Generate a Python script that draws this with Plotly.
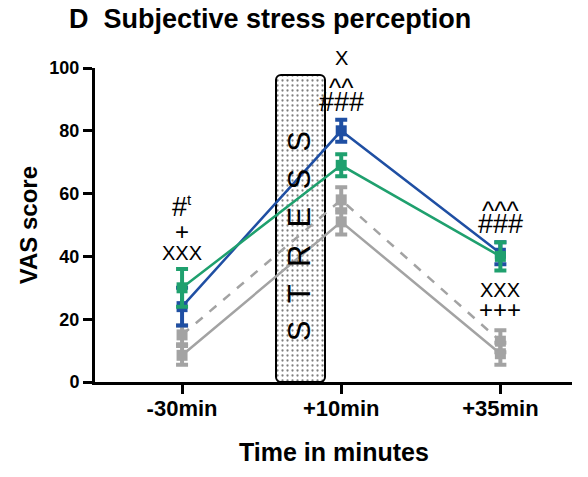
import plotly.graph_objects as go

# ---- data ----
time_labels = ["-30min", "+10min", "+35min"]
time_pos = [0, 1, 2]

gray_solid = [8.5, 51, 9]
gray_solid_err = [3, 4, 3.5]
gray_dashed = [15, 58, 13]
gray_dashed_err = [3, 4, 3.5]
blue = [24, 80, 41]
blue_err = [6, 3.5, 3.5]
green = [30, 69, 40]
green_err = [6, 3.5, 4.5]

stress_x = [0.745]
stress_top = [97.8]

BLUE = "#1f4fa3"
GREEN = "#1fa06e"
GRAY = "#a3a3a3"

fig = go.Figure()

# stress box
fig.add_trace(go.Bar(
    x=stress_x, y=stress_top, base=0, width=0.31,
    marker=dict(color="white", line=dict(color="black", width=2),
                pattern=dict(shape=".", fgcolor="black", bgcolor="white",
                             size=5, solidity=0.16)),
    showlegend=False, hoverinfo="skip"))

def add_series(y, err, color, dash):
    fig.add_trace(go.Scatter(
        x=time_pos, y=y, mode="lines+markers",
        line=dict(color=color, width=2.5, dash=dash),
        marker=dict(symbol="square", size=11, color=color),
        error_y=dict(type="data", array=err, color=color, thickness=4, width=6),
        showlegend=False, cliponaxis=False))

add_series(gray_solid, gray_solid_err, GRAY, "solid")
add_series(gray_dashed, gray_dashed_err, GRAY, "dash")
add_series(blue, blue_err, BLUE, "solid")
add_series(green, green_err, GREEN, "solid")

hfont = dict(family="Liberation Sans, Arial", size=27, color="black")  # hashes
cfont = dict(family="Liberation Sans, Arial", size=26, color="black")  # carets
xfont = dict(family="Liberation Sans, Arial", size=20, color="black")  # X marks
pfont = dict(family="Liberation Sans, Arial", size=24, color="black")  # plus marks
ann = [
    (0, 56, "#<sup><span style='font-size:15px'>t</span></sup>", hfont),
    (0, 47.8, "+", pfont), (0, 41.1, "XXX", xfont),
    (1, 93.6, "^^", cfont), (1, 89.2, "###", hfont),
    (2, 54.5, "^^^", cfont), (2, 50.3, "###", hfont),
    (2, 29.3, "XXX", xfont), (2, 23, "+++", pfont),
]
for x, y, t, f in ann:
    fig.add_annotation(x=x, y=y, text=t, showarrow=False, font=f,
                       xref="x", yref="y", xanchor="center", yanchor="middle")
# label above the plot area (paper reference so it is not hidden)
fig.add_annotation(x=1, y=1.032, xref="x", yref="paper", text="X",
                   xanchor="center", yanchor="middle", showarrow=False, font=xfont)

fig.add_annotation(x=0.742, y=46.5,
                   text="S\u00a0\u00a0T\u00a0\u00a0R\u00a0\u00a0E\u00a0\u00a0S\u00a0\u00a0S",
                   textangle=-90, showarrow=False, xanchor="center", yanchor="middle",
                   font=dict(family="Liberation Sans, Arial", size=31, color="black"))

# title
fig.add_annotation(x=-0.0587, y=1.0, xref="paper", yref="paper",
                   xanchor="left", yanchor="middle", yshift=49,
                   text="<b>D\u00a0\u00a0Subjective stress perception</b>", showarrow=False,
                   font=dict(family="Liberation Sans, Arial", size=27, color="black"))
# axis titles
fig.add_annotation(x=0.5, y=-0.223, xref="paper", yref="paper",
                   xanchor="center", yanchor="middle",
                   text="<b>Time in minutes</b>", showarrow=False,
                   font=dict(family="Liberation Sans, Arial", size=25, color="black"))
fig.add_annotation(x=-0.14, y=0.5, xref="paper", yref="paper", textangle=-90,
                   xanchor="center", yanchor="middle",
                   text="<b>VAS score</b>", showarrow=False,
                   font=dict(family="Liberation Sans, Arial", size=24, color="black"))

fig.update_layout(
    width=588, height=477,
    margin=dict(l=95, r=16, t=68, b=95),
    plot_bgcolor="white", paper_bgcolor="white",
    font=dict(family="Liberation Sans, Arial", color="black"),
    xaxis=dict(range=[-0.547, 2.45], tickvals=time_pos,
               ticktext=[f"<b>{t}</b>" for t in time_labels],
               showgrid=False, zeroline=False, showline=True, linecolor="black", linewidth=3,
               ticks="outside", ticklen=9, tickwidth=2.5, tickcolor="black",
               tickfont=dict(size=22), automargin=False, ticklabelstandoff=-4),
    yaxis=dict(range=[0, 100], tickvals=[0, 20, 40, 60, 80, 100],
               ticktext=[f"<b>{v}</b>" for v in [0, 20, 40, 60, 80, 100]],
               showgrid=False, zeroline=False, showline=True, linecolor="black", linewidth=3,
               ticks="outside", ticklen=9, tickwidth=2.5, tickcolor="black",
               tickfont=dict(size=18), automargin=False),
    bargap=0,
    barcornerradius=5,
)

fig.write_html("out.html", config={"displayModeBar": False},
               post_script="document.body.style.margin='0px';")
